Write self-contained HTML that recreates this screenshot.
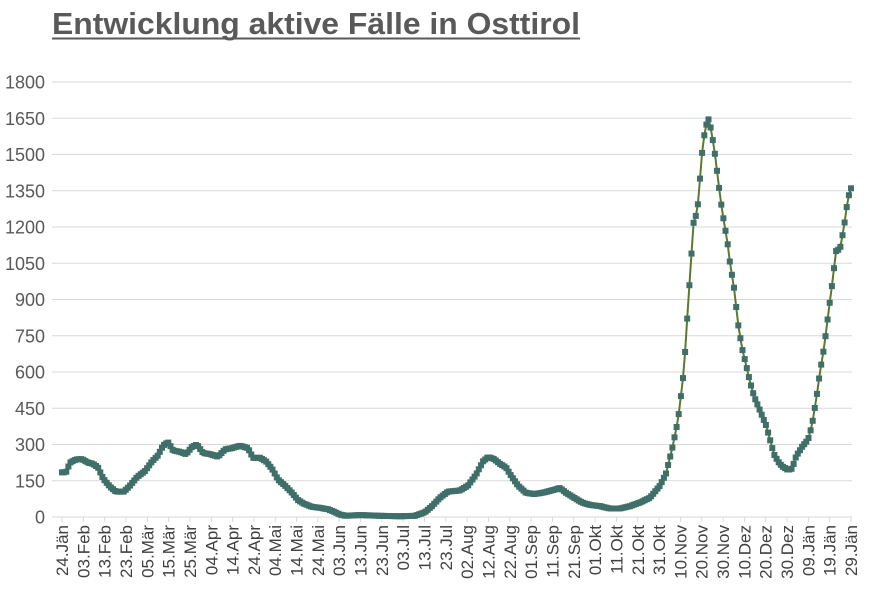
<!DOCTYPE html>
<html><head><meta charset="utf-8"><style>
body{margin:0;background:#fff;width:874px;height:601px;overflow:hidden}
svg{font-family:"Liberation Sans",sans-serif}
</style></head><body>
<svg id="s" width="874" height="601" xmlns="http://www.w3.org/2000/svg">
<text x="52" y="34" font-size="31" font-weight="bold" fill="#595959" textLength="528" lengthAdjust="spacingAndGlyphs">Entwicklung aktive Fälle in Osttirol</text>
<line x1="52" y1="38.5" x2="580" y2="38.5" stroke="#595959" stroke-width="2"/>
<g id="g"></g>
</svg>
<script>
var g=document.getElementById('g'),h='';
function Y(v){return 517-v*435/1800;}
for(var i=0;i<=12;i++){var v=i*150,y=Y(v);
 if(i>0)h+='<line x1="52" y1="'+y+'" x2="852" y2="'+y+'" stroke="#d9d9d9" stroke-width="1"/>';
 h+='<text x="45" y="'+(y+6.5)+'" font-size="18" fill="#595959" text-anchor="end">'+v+'</text>';}
h+='<line x1="52" y1="517" x2="852" y2="517" stroke="#d9d9d9"/>';
var L="24.Jän 03.Feb 13.Feb 23.Feb 05.Mär 15.Mär 25.Mär 04.Apr 14.Apr 24.Apr 04.Mai 14.Mai 24.Mai 03.Jun 13.Jun 23.Jun 03.Jul 13.Jul 23.Jul 02.Aug 12.Aug 22.Aug 01.Sep 11.Sep 21.Sep 01.Okt 11.Okt 21.Okt 31.Okt 10.Nov 20.Nov 30.Nov 10.Dez 20.Dez 30.Dez 09.Jän 19.Jän 29.Jän".split(' ');
for(var i=0;i<L.length;i++){var x=62+i*(851-62)/37;
 h+='<line x1="'+x+'" y1="517" x2="'+x+'" y2="522" stroke="#d9d9d9"/>';
 h+='<text transform="translate('+(x+6)+',525) rotate(-90)" font-size="17" fill="#404040" text-anchor="end">'+L[i]+'</text>';}
var K=[62,185,66,185,70,225,76,238,82,240,88,225,93,220,98,205,103,160,110,125,116,105,124,105,130,130,137,165,145,190,152,230,158,255,163,295,168,310,173,275,180,270,186,260,192,290,197,300,203,265,210,260,218,250,225,280,232,285,240,295,248,285,253,245,260,245,266,230,272,200,278,155,285,130,292,100,298,70,304,55,312,42,320,38,328,32,334,22,340,10,346,5,360,8,380,5,400,3,415,5,425,20,432,45,440,80,448,105,460,110,468,130,476,175,483,230,488,248,494,240,500,220,506,205,512,165,518,130,526,100,534,95,542,100,552,110,560,120,566,100,574,80,582,60,590,50,600,45,610,35,620,35,630,45,640,60,650,80,660,130,666,180,672,280,678,400,684,610,690,1000,694,1240,697,1250,700,1400,703,1550,706,1620,709,1650,712,1580,715,1500,718,1400,721,1300,724,1220,727,1150,730,1050,734,950,738,800,742,700,746,630,750,560,754,500,758,460,762,420,766,380,770,320,774,260,778,230,782,210,788,195,792,200,796,250,802,290,808,320,812,380,816,480,820,600,824,700,828,830,832,960,836,1100,840,1110,844,1200,848,1320,851,1360];
function val(x){for(var j=0;j<K.length-2;j+=2){if(x<=K[j+2]){var t=(x-K[j])/(K[j+2]-K[j]);return K[j+1]+t*(K[j+3]-K[j+1]);}}return K[K.length-1];}
var pts=[],m='';
for(var d=0;d<=371;d++){var x=62+d*(851-62)/371,y=Y(val(x));pts.push(x.toFixed(1)+','+y.toFixed(1));
 m+='<rect x="'+(x-3).toFixed(1)+'" y="'+(y-3).toFixed(1)+'" width="6" height="6" fill="#3f6f68"/>';}
h+='<polyline points="'+pts.join(' ')+'" fill="none" stroke="#5a7a2e" stroke-width="2"/>';
h+=m;
g.innerHTML=h;
</script>
</body></html>
